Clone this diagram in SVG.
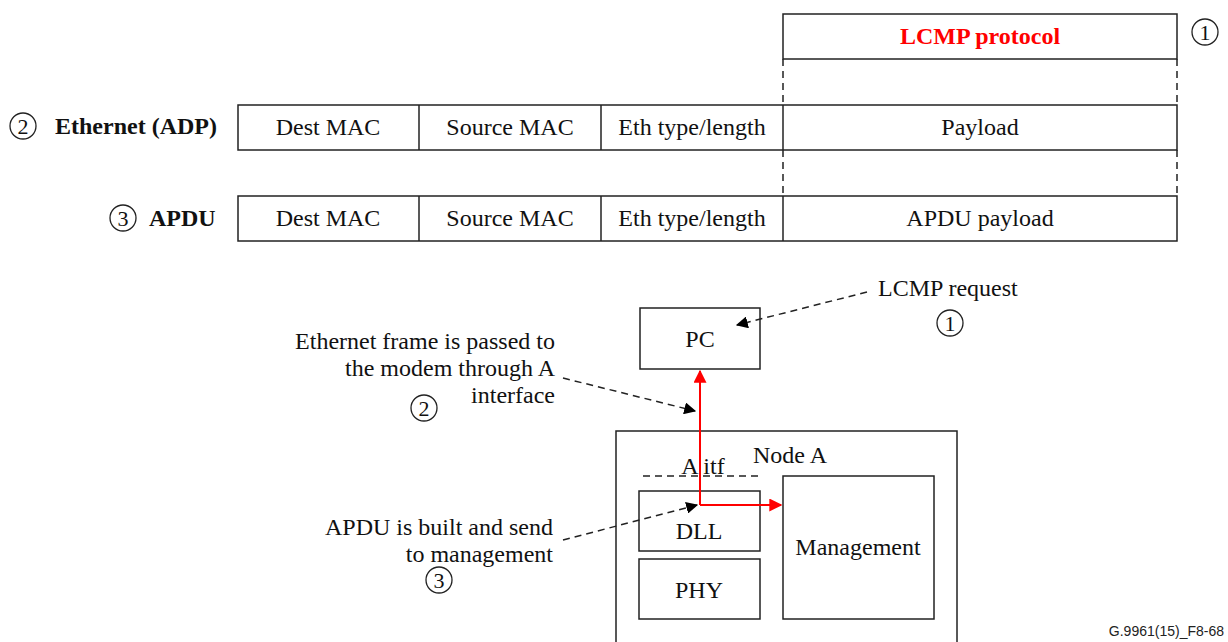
<svg xmlns="http://www.w3.org/2000/svg" width="1228" height="642" viewBox="0 0 1228 642">
<defs>
<style>
.b{fill:#fff;stroke:#222;stroke-width:1.5}
.t{font-family:"Liberation Serif","Times New Roman",serif;font-size:24px;fill:#111}
.c{text-anchor:middle}
.r{text-anchor:end}
.bd{font-weight:bold}
.d{stroke:#222;stroke-width:1.5;stroke-dasharray:7,5;fill:none}
.circ{fill:none;stroke:#222;stroke-width:1.3}
.red{stroke:#f00;stroke-width:2;fill:none}
</style>
<marker id="ab" viewBox="0 0 10 10" refX="9" refY="5" markerWidth="12" markerHeight="12" markerUnits="userSpaceOnUse" orient="auto"><path d="M0,0 L10,5 L0,10 z" fill="#000"/></marker>
<marker id="ar" viewBox="0 0 10 10" refX="9" refY="5" markerWidth="13" markerHeight="13" markerUnits="userSpaceOnUse" orient="auto"><path d="M0,0 L10,5 L0,10 z" fill="#f00"/></marker>
</defs>
<rect width="1228" height="642" fill="#fff"/>

<g id="lcmp">
<rect class="b" x="783" y="14" width="394" height="45"/>
<text class="t c bd" x="980" y="44" style="fill:#f00">LCMP protocol</text>
<circle class="circ" cx="1205" cy="32" r="13"/><text class="t c" x="1205" y="40" style="font-size:22px">1</text>
</g>

<g id="ethernet">
<rect class="b" x="238" y="105" width="939" height="45"/>
<line class="b" x1="419" y1="105" x2="419" y2="150"/>
<line class="b" x1="601" y1="105" x2="601" y2="150"/>
<line class="b" x1="783" y1="105" x2="783" y2="150"/>
<text class="t c" x="328" y="135">Dest MAC</text>
<text class="t c" x="510" y="135">Source MAC</text>
<text class="t c" x="692" y="135">Eth type/length</text>
<text class="t c" x="980" y="135">Payload</text>
<circle class="circ" cx="23" cy="126" r="13"/><text class="t c" x="23" y="134" style="font-size:22px">2</text>
<text class="t bd" x="55" y="134">Ethernet (ADP)</text>
</g>

<g id="apdu">
<rect class="b" x="238" y="196" width="939" height="45"/>
<line class="b" x1="419" y1="196" x2="419" y2="241"/>
<line class="b" x1="601" y1="196" x2="601" y2="241"/>
<line class="b" x1="783" y1="196" x2="783" y2="241"/>
<text class="t c" x="328" y="226">Dest MAC</text>
<text class="t c" x="510" y="226">Source MAC</text>
<text class="t c" x="692" y="226">Eth type/length</text>
<text class="t c" x="980" y="226">APDU payload</text>
<circle class="circ" cx="123" cy="218" r="13"/><text class="t c" x="123" y="226" style="font-size:22px">3</text>
<text class="t bd" x="149" y="226">APDU</text>
</g>

<g id="pc">
<rect class="b" x="640" y="308" width="120" height="61"/>
<text class="t c" x="700" y="347">PC</text>
</g>

<g id="nodeA">
<rect class="b" x="616" y="431" width="341" height="212"/>
<text class="t c" x="790" y="463">Node A</text>
<text class="t c" x="703" y="474">A itf</text>
<line class="d" x1="643" y1="476" x2="760" y2="476"/>
</g>
<g id="dll">
<rect class="b" x="639" y="491" width="121" height="60"/>
<text class="t c" x="699" y="539">DLL</text>
</g>
<g id="phy">
<rect class="b" x="639" y="559" width="121" height="60"/>
<text class="t c" x="699" y="598">PHY</text>
</g>
<g id="management">
<rect class="b" x="783" y="476" width="151" height="143"/>
<text class="t c" x="858" y="555">Management</text>
</g>

<g id="notes">
<text class="t" x="878" y="296">LCMP request</text>
<circle class="circ" cx="950" cy="323" r="13"/><text class="t c" x="950" y="331" style="font-size:22px">1</text>
<text class="t r" x="555" y="349">Ethernet frame is passed to</text>
<text class="t r" x="555" y="376">the modem through A</text>
<text class="t r" x="555" y="403">interface</text>
<circle class="circ" cx="424" cy="408" r="13"/><text class="t c" x="424" y="416" style="font-size:22px">2</text>
<text class="t r" x="553" y="535">APDU is built and send</text>
<text class="t r" x="553" y="562">to management</text>
<circle class="circ" cx="439" cy="580" r="13"/><text class="t c" x="439" y="588" style="font-size:22px">3</text>
<text x="1224" y="636" text-anchor="end" font-family="Liberation Sans,Arial,sans-serif" font-size="14" fill="#222">G.9961(15)_F8-68</text>
</g>

<g id="connectors">
<line class="d" x1="783" y1="59" x2="783" y2="105"/>
<line class="d" x1="1177" y1="59" x2="1177" y2="105"/>
<line class="d" x1="783" y1="150" x2="783" y2="196"/>
<line class="d" x1="1177" y1="150" x2="1177" y2="196"/>
<line class="red" x1="700" y1="505" x2="700" y2="371" marker-end="url(#ar)"/>
<line class="red" x1="700" y1="505" x2="781" y2="505" marker-end="url(#ar)"/>
<line class="d" x1="867" y1="292" x2="737" y2="325" marker-end="url(#ab)"/>
<line class="d" x1="563" y1="378" x2="695" y2="411" marker-end="url(#ab)"/>
<line class="d" x1="563" y1="540" x2="697" y2="505" marker-end="url(#ab)"/>
</g>
</svg>
